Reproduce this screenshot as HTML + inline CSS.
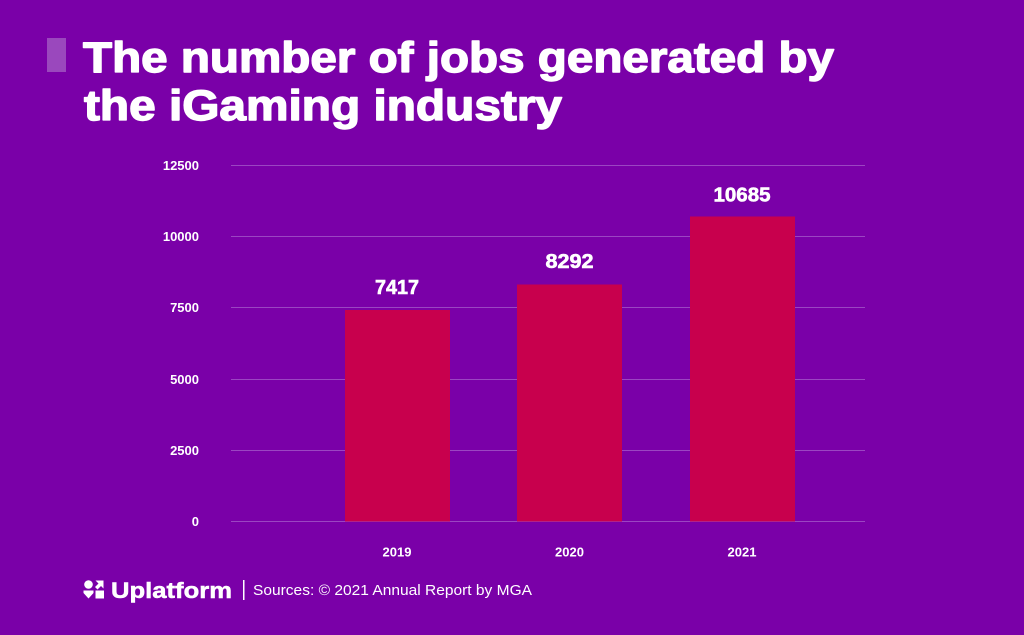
<!DOCTYPE html>
<html>
<head>
<meta charset="utf-8">
<style>
  html, body { margin:0; padding:0; background:#7a00a8; }
  body { width:1024px; height:635px; overflow:hidden; }
  svg { display:block; }
  text { font-family: "Liberation Sans", "DejaVu Sans", sans-serif; }
</style>
</head>
<body>
<svg width="1024" height="635" viewBox="0 0 1024 635" xmlns="http://www.w3.org/2000/svg">
  <rect x="0" y="0" width="1024" height="635" fill="#7a00a8"/>

  <!-- title marker -->
  <rect x="47" y="38" width="19" height="34" fill="#9a48bd"/>

  <!-- title -->
  <g fill="#ffffff" stroke="#ffffff" stroke-width="1.4" stroke-linejoin="round">
    <text x="83" y="72" font-size="43" font-weight="bold" textLength="751" lengthAdjust="spacingAndGlyphs">The number of jobs generated by</text>
    <text x="84" y="120" font-size="43" font-weight="bold" textLength="478" lengthAdjust="spacingAndGlyphs">the iGaming industry</text>
  </g>

  <!-- gridlines -->
  <g stroke="#9b45c2" stroke-width="1">
    <line x1="231" y1="165.5" x2="865" y2="165.5"/>
    <line x1="231" y1="236.5" x2="865" y2="236.5"/>
    <line x1="231" y1="307.5" x2="865" y2="307.5"/>
    <line x1="231" y1="379.5" x2="865" y2="379.5"/>
    <line x1="231" y1="450.5" x2="865" y2="450.5"/>
    <line x1="231" y1="521.5" x2="865" y2="521.5"/>
  </g>

  <!-- y labels -->
  <g font-size="13" font-weight="bold" fill="#ffffff" text-anchor="end">
    <text x="199" y="170">12500</text>
    <text x="199" y="241">10000</text>
    <text x="199" y="312">7500</text>
    <text x="199" y="384">5000</text>
    <text x="199" y="455">2500</text>
    <text x="199" y="526">0</text>
  </g>

  <!-- bars -->
  <g fill="#c8004d">
    <rect x="345" y="310" width="105" height="211.5"/>
    <rect x="517" y="284.5" width="105" height="237"/>
    <rect x="690" y="216.5" width="105" height="305"/>
  </g>

  <!-- value labels -->
  <g font-size="20" font-weight="bold" fill="#ffffff" stroke="#ffffff" stroke-width="0.6" text-anchor="middle">
    <text x="397" y="294" textLength="44" lengthAdjust="spacingAndGlyphs">7417</text>
    <text x="569.5" y="268" textLength="48" lengthAdjust="spacingAndGlyphs">8292</text>
    <text x="742" y="201.5" textLength="57" lengthAdjust="spacingAndGlyphs">10685</text>
  </g>

  <!-- x labels -->
  <g font-size="13" font-weight="bold" fill="#ffffff" text-anchor="middle">
    <text x="397" y="556.5">2019</text>
    <text x="569.5" y="556.5">2020</text>
    <text x="742" y="556.5">2021</text>
  </g>

  <!-- footer logo icon -->
  <g fill="#ffffff">
    <circle cx="88.5" cy="584.5" r="4.3"/>
    <path d="M95.5 580.5 L103.5 580.5 L103.5 588.5 L101 586 L97.5 589.5 L95 587 L98.5 583.5 Z"/>
    <path d="M83.5 590.5 L93.5 590.5 L93.5 593 L88.5 598.5 L83.5 593 Z"/>
    <rect x="95.5" y="590.5" width="8.5" height="8"/>
  </g>
  <text x="111" y="598" font-size="22" font-weight="bold" fill="#ffffff" stroke="#ffffff" stroke-width="0.5" textLength="121" lengthAdjust="spacingAndGlyphs">Uplatform</text>
  <rect x="243" y="580" width="1.5" height="20" fill="#ffffff"/>
  <text x="253" y="595" font-size="15" fill="#ffffff" textLength="279" lengthAdjust="spacingAndGlyphs">Sources: © 2021 Annual Report by MGA</text>
</svg>
</body>
</html>
